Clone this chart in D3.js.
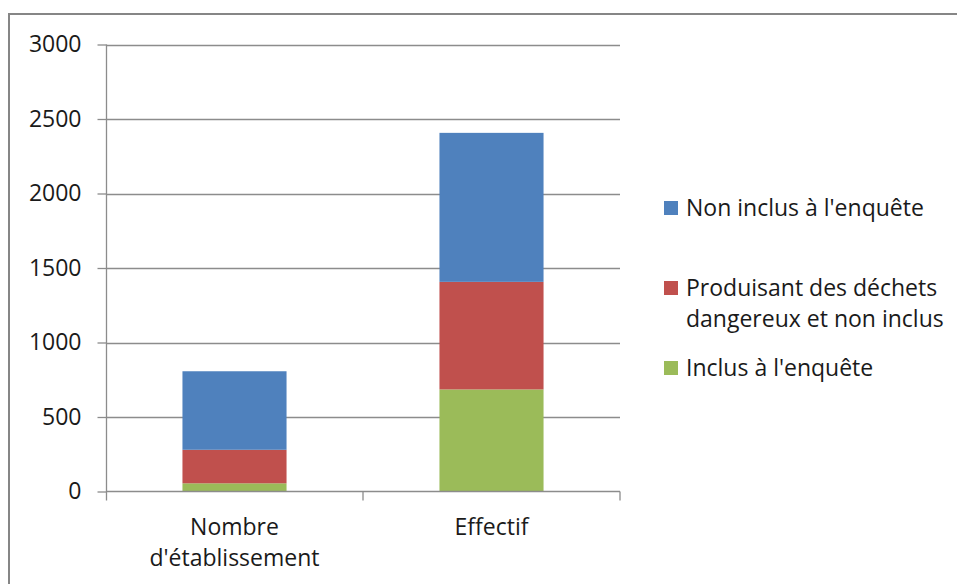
<!DOCTYPE html>
<html>
<head>
<meta charset="utf-8">
<script src="https://cdn.jsdelivr.net/npm/d3@7"></script>
<style>
  html, body { margin: 0; padding: 0; background: #fff; }
  svg { display: block; }
  text { font-family: "Open Sans", "Noto Sans", sans-serif; fill: #1a1a1a; }
</style>
</head>
<body>
<svg id="chart" width="957" height="584"></svg>
<script>
// ---- Data ----
const categories = ["Nombre d'établissement", "Effectif"];
const seriesNames = ["Inclus à l'enquête", "Produisant des déchets dangereux et non inclus", "Non inclus à l'enquête"];
const inclus = [55, 685];
const produisant = [225, 722];
const nonInclus = [527, 1000];
const yTicks = [0, 500, 1000, 1500, 2000, 2500, 3000];
const colors = ["#9BBB59", "#C0504D", "#4F81BD"];
const legendOrder = [2, 1, 0];

const svg = d3.select("#chart");
const W = 957, H = 584;
const plot = { left: 106, right: 620, top: 44.5, bottom: 491.5 };
const fontSize = 23;

// outer border
svg.append("rect")
  .attr("x", 9).attr("y", 14)
  .attr("width", W + 20).attr("height", H + 20)
  .attr("fill", "none").attr("stroke", "#868686").attr("stroke-width", 2);

const x = d3.scaleBand().domain(categories).range([plot.left, plot.right]).padding(0);
const y = d3.scaleLinear().domain([0, 3000]).range([plot.bottom, plot.top]);

// gridlines
svg.append("g").selectAll("line").data(yTicks.filter(d => d > 0)).join("line")
  .attr("x1", plot.left).attr("x2", plot.right)
  .attr("y1", d => Math.round(y(d)) + 0.5).attr("y2", d => Math.round(y(d)) + 0.5)
  .attr("stroke", "#8c8c8c").attr("stroke-width", 1.3);

// stacked data
const table = categories.map((c, i) => ({ cat: c, s0: inclus[i], s1: produisant[i], s2: nonInclus[i] }));
const stack = d3.stack().keys(["s0", "s1", "s2"]);
const layers = stack(table);
const barW = x.bandwidth() * 0.405;

svg.append("g").selectAll("g").data(layers).join("g")
  .attr("fill", (d, i) => colors[i])
  .selectAll("rect").data(d => d).join("rect")
  .attr("x", d => x(d.data.cat) + x.bandwidth() / 2 - barW / 2)
  .attr("width", barW)
  .attr("y", d => y(d[1]))
  .attr("height", d => y(d[0]) - y(d[1]));

// Y axis
const yAxis = d3.axisLeft(y).tickValues(yTicks).tickSize(9).tickPadding(16).tickFormat(d3.format("d"));
const gy = svg.append("g").attr("transform", `translate(${plot.left + 0.5},0)`).call(yAxis);
gy.select(".domain").remove();
gy.selectAll(".tick line").attr("stroke", "#8c8c8c").attr("stroke-width", 1.3);
gy.selectAll(".tick text").attr("font-size", fontSize).attr("fill", "#1a1a1a")
  .style("font-family", '"Open Sans", sans-serif');
svg.append("line")
  .attr("x1", plot.left + 0.5).attr("x2", plot.left + 0.5)
  .attr("y1", plot.top).attr("y2", plot.bottom + 9)
  .attr("stroke", "#8c8c8c").attr("stroke-width", 1.3);

// X axis baseline + boundary ticks
svg.append("line")
  .attr("x1", plot.left).attr("x2", plot.right)
  .attr("y1", plot.bottom).attr("y2", plot.bottom)
  .attr("stroke", "#8c8c8c").attr("stroke-width", 1.3);
const bounds = categories.map(c => x(c)).concat([plot.right]);
svg.append("g").selectAll("line").data(bounds.slice(1)).join("line")
  .attr("x1", d => d).attr("x2", d => d)
  .attr("y1", plot.bottom).attr("y2", plot.bottom + 9)
  .attr("stroke", "#8c8c8c").attr("stroke-width", 1.3);

// word wrapping helper
function wrapLines(text, maxW, fs) {
  const tmp = svg.append("text").attr("font-size", fs);
  const words = text.split(" ");
  const lines = [];
  let cur = "";
  words.forEach(w => {
    const test = cur ? cur + " " + w : w;
    tmp.text(test);
    if (tmp.node().getComputedTextLength() > maxW && cur) { lines.push(cur); cur = w; }
    else cur = test;
  });
  if (cur) lines.push(cur);
  tmp.remove();
  return lines;
}

// category labels
const lineH = 31;
categories.forEach(c => {
  const lines = wrapLines(c, 200, fontSize);
  const t = svg.append("text")
    .attr("text-anchor", "middle")
    .attr("font-size", fontSize)
    .attr("x", x(c) + x.bandwidth() / 2)
    .attr("y", 535);
  lines.forEach((l, i) => t.append("tspan").attr("x", x(c) + x.bandwidth() / 2).attr("dy", i === 0 ? 0 : lineH).text(l));
});

// legend
const legendY = [208, 288, 368];
legendOrder.forEach((si, k) => {
  const lines = wrapLines(seriesNames[si], 270, fontSize);
  const cy = legendY[k];
  svg.append("rect")
    .attr("x", 664).attr("y", cy - 7)
    .attr("width", 14).attr("height", 14)
    .attr("fill", colors[si]);
  const t = svg.append("text").attr("font-size", fontSize).attr("x", 686).attr("y", cy).attr("dy", "0.35em");
  lines.forEach((l, i) => t.append("tspan").attr("x", 686).attr("dy", i === 0 ? "0.35em" : lineH).text(l));
});
</script>
</body>
</html>
